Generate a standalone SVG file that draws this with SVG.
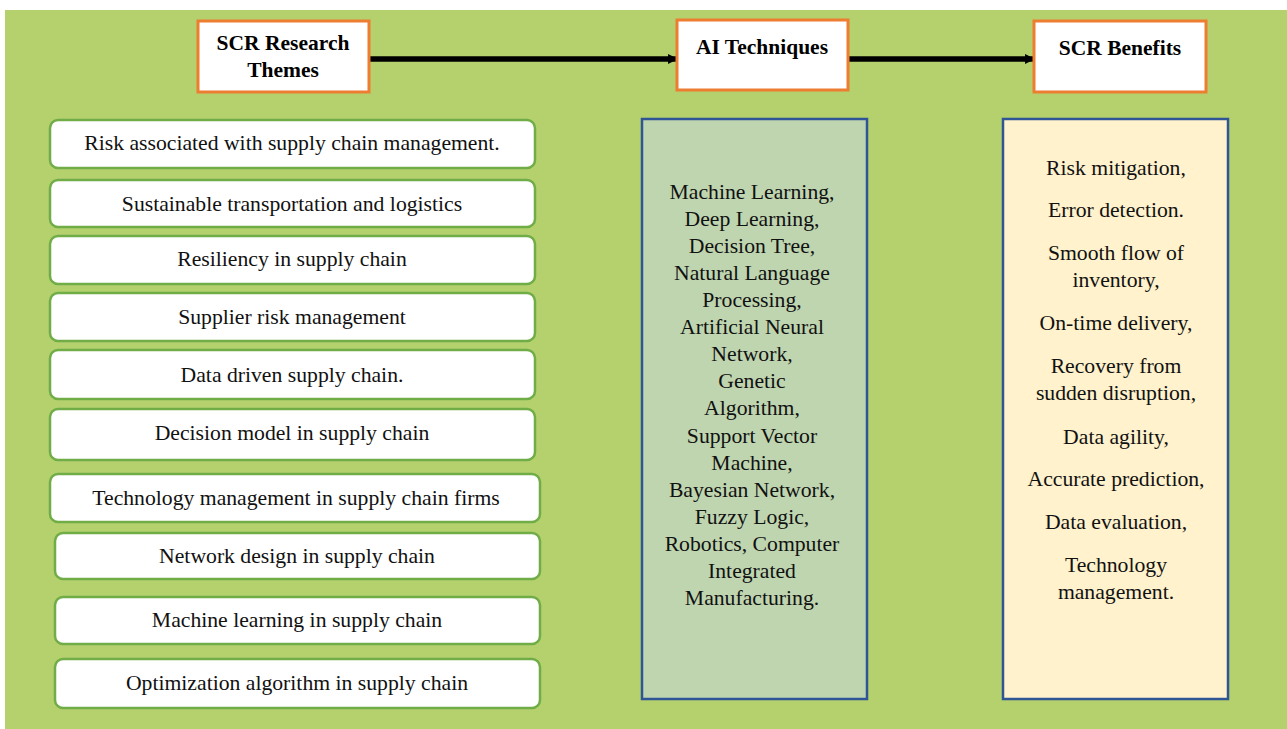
<svg xmlns="http://www.w3.org/2000/svg" width="1287" height="729" viewBox="0 0 1287 729">
<style>
.hdr{fill:#fff;stroke:#ED7D31;stroke-width:3}
.ht{font-family:"Liberation Serif",serif;font-weight:bold;font-size:21.5px;fill:#000;text-anchor:middle}
.theme{fill:#fff;stroke:#70AD47;stroke-width:2.5}
.tt{font-family:"Liberation Serif",serif;font-size:21.7px;fill:#111;text-anchor:middle}
.col{stroke:#2F5597;stroke-width:2.5}
.ct{font-family:"Liberation Serif",serif;font-size:21.7px;fill:#111;text-anchor:middle}
.conn{stroke:#000;stroke-width:5.5;fill:none}
</style>
<defs>
<marker id="ah" viewBox="0 0 10 10" refX="9" refY="5" markerWidth="1.8" markerHeight="2.2" orient="auto" markerUnits="strokeWidth">
<path d="M0,0 L10,5 L0,10 z" fill="#000"/>
</marker>
</defs>
<rect x="0" y="0" width="1287" height="729" fill="#fff"/>
<rect x="5" y="10" width="1282" height="719" fill="#B5D16E"/>

<g id="connectors">
<line class="conn" x1="370" y1="59" x2="677" y2="59" marker-end="url(#ah)"/>
<line class="conn" x1="849" y1="59" x2="1034" y2="59" marker-end="url(#ah)"/>
</g>

<g id="scr-research-themes">
<rect class="hdr" x="198" y="21" width="171" height="71"/>
<text class="ht" x="283" y="50">SCR Research</text>
<text class="ht" x="283" y="77">Themes</text>
</g>
<g id="ai-techniques">
<rect class="hdr" x="677" y="20" width="171" height="70"/>
<text class="ht" x="762" y="54">AI Techniques</text>
</g>
<g id="scr-benefits">
<rect class="hdr" x="1034" y="21" width="172" height="71"/>
<text class="ht" x="1120" y="55">SCR Benefits</text>
</g>

<g id="theme-1"><rect class="theme" x="50" y="120" width="485" height="48" rx="8"/><text class="tt" x="292" y="150">Risk associated with supply chain management.</text></g>
<g id="theme-2"><rect class="theme" x="50" y="180" width="485" height="47" rx="8"/><text class="tt" x="292" y="211">Sustainable transportation and logistics</text></g>
<g id="theme-3"><rect class="theme" x="50" y="236" width="485" height="48" rx="8"/><text class="tt" x="292" y="266">Resiliency in supply chain</text></g>
<g id="theme-4"><rect class="theme" x="50" y="293" width="485" height="48" rx="8"/><text class="tt" x="292" y="324">Supplier risk management</text></g>
<g id="theme-5"><rect class="theme" x="50" y="350" width="485" height="49" rx="8"/><text class="tt" x="292" y="382">Data driven supply chain.</text></g>
<g id="theme-6"><rect class="theme" x="50" y="409" width="485" height="51" rx="8"/><text class="tt" x="292" y="440">Decision model in supply chain</text></g>
<g id="theme-7"><rect class="theme" x="50" y="474" width="490" height="48" rx="8"/><text class="tt" x="296" y="505">Technology management in supply chain firms</text></g>
<g id="theme-8"><rect class="theme" x="55" y="533" width="485" height="46" rx="8"/><text class="tt" x="297" y="563">Network design in supply chain</text></g>
<g id="theme-9"><rect class="theme" x="55" y="597" width="485" height="47" rx="8"/><text class="tt" x="297" y="627">Machine learning in supply chain</text></g>
<g id="theme-10"><rect class="theme" x="55" y="659" width="485" height="49" rx="8"/><text class="tt" x="297" y="690">Optimization algorithm in supply chain</text></g>

<g id="ai-list">
<rect class="col" x="642" y="119" width="225" height="580" fill="#BFD5B0"/>
<text class="ct" x="752" y="199">Machine Learning,</text>
<text class="ct" x="752" y="226">Deep Learning,</text>
<text class="ct" x="752" y="253">Decision Tree,</text>
<text class="ct" x="752" y="280">Natural Language</text>
<text class="ct" x="752" y="307">Processing,</text>
<text class="ct" x="752" y="334">Artificial Neural</text>
<text class="ct" x="752" y="361">Network,</text>
<text class="ct" x="752" y="388">Genetic</text>
<text class="ct" x="752" y="415">Algorithm,</text>
<text class="ct" x="752" y="443">Support Vector</text>
<text class="ct" x="752" y="470">Machine,</text>
<text class="ct" x="752" y="497">Bayesian Network,</text>
<text class="ct" x="752" y="524">Fuzzy Logic,</text>
<text class="ct" x="752" y="551">Robotics, Computer</text>
<text class="ct" x="752" y="578">Integrated</text>
<text class="ct" x="752" y="605">Manufacturing.</text>
</g>

<g id="benefits-list">
<rect class="col" x="1003" y="119" width="225" height="580" fill="#FFF2CC"/>
<text class="ct" x="1116" y="175">Risk mitigation,</text>
<text class="ct" x="1116" y="217">Error detection.</text>
<text class="ct" x="1116" y="260">Smooth flow of</text>
<text class="ct" x="1116" y="287">inventory,</text>
<text class="ct" x="1116" y="330">On-time delivery,</text>
<text class="ct" x="1116" y="373">Recovery from</text>
<text class="ct" x="1116" y="400">sudden disruption,</text>
<text class="ct" x="1116" y="444">Data agility,</text>
<text class="ct" x="1116" y="486">Accurate prediction,</text>
<text class="ct" x="1116" y="529">Data evaluation,</text>
<text class="ct" x="1116" y="572">Technology</text>
<text class="ct" x="1116" y="599">management.</text>
</g>
</svg>
